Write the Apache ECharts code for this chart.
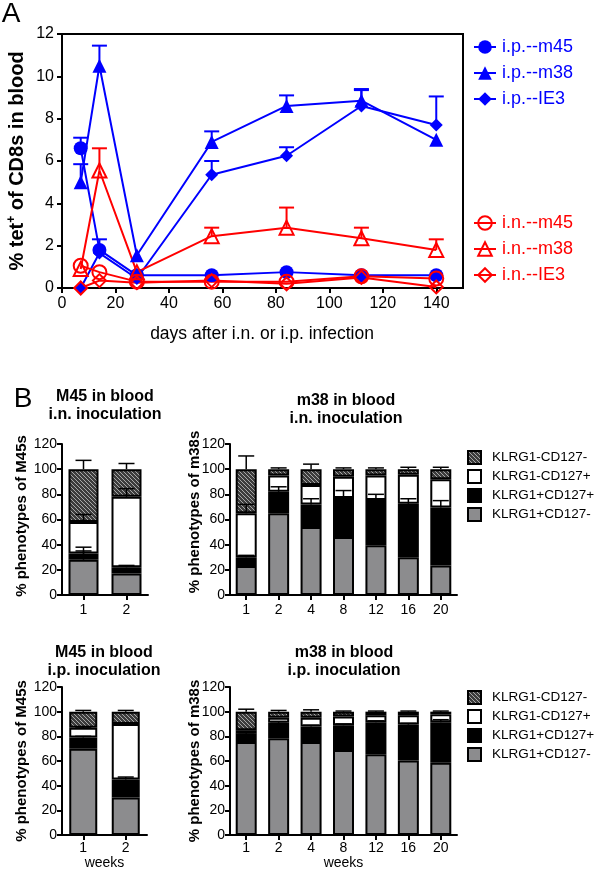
<!DOCTYPE html>
<html><head><meta charset="utf-8">
<script src="https://cdn.jsdelivr.net/npm/echarts@6/dist/echarts.min.js"></script>
<style>html,body{margin:0;padding:0;background:#fff}#c{width:600px;height:870px}</style>
</head><body><div id="c"></div>
<script>
const FONT = '"Liberation Sans", Arial, Helvetica, sans-serif';
const BLUE = '#0000ff', RED = '#ff0000';

// ---------- Panel A data ----------
const daysA = [7, 14, 28, 56, 84, 112, 140];
const ipM45 = [6.6, 1.8, 0.6, 0.6, 0.75, 0.6, 0.6];
const ipM45Err = [0.5, 0.5, 0, 0, 0, 0, 0];
const ipM38 = [5.0, 10.5, 1.55, 6.9, 8.6, 8.85, 7.0];
const ipM38Err = [0.85, 0.95, 0, 0.5, 0.5, 0.55, 0];
const ipIE3 = [0, 1.65, 0.45, 5.35, 6.25, 8.6, 7.7];
const ipIE3Err = [0, 0, 0, 0.65, 0.4, 0.75, 1.35];
const inM45 = [1.05, 0.75, 0.3, 0.3, 0.3, 0.55, 0.45];
const inM38 = [0.9, 5.55, 0.75, 2.45, 2.85, 2.35, 1.8];
const inM38Err = [0, 1.05, 0, 0.4, 0.95, 0.5, 0.5];
const inIE3 = [0, 0.35, 0.25, 0.35, 0.2, 0.5, 0.05];
const ticksA_y = [0, 12, 2];
const ticksA_x = [0, 150, 20];

// ---------- Panel B data ----------
const catsM45 = ['1', '2'];
const catsM38 = ['1', '2', '4', '8', '12', '16', '20'];
const phenoNames = ['KLRG1+CD127-', 'KLRG1+CD127+', 'KLRG1-CD127+', 'KLRG1-CD127-'];
// M45, i.n.
const m45inGray = [28, 17];
const m45inBlack = [5, 5];
const m45inWhite = [25, 56];
const m45inHatch = [42, 22];
const m45inErrGray = [7, 0];
const m45inErrBlack = [5, 1.5];
const m45inErrWhite = [6, 6.5];
const m45inErrHatch = [7, 4.5];
// m38, i.n.
const m38inGray = [23, 65, 54, 46, 39.5, 30, 23.5];
const m38inBlack = [7, 17, 18, 31, 36, 42.5, 46];
const m38inWhite = [35, 13, 15.5, 17, 19.5, 23, 22.5];
const m38inHatch = [35, 5, 12.5, 6, 5, 4.5, 8];
const m38inErrGray = [0, 0, 0, 0, 0, 0, 0];
const m38inErrBlack = [1.5, 4, 4.5, 6, 4.5, 4, 5.5];
const m38inErrWhite = [7, 0, 0, 0, 0, 0, 0];
const m38inErrHatch = [10.5, 1, 4, 1, 1, 1.5, 1.5];
// M45, i.p.
const m45ipGray = [70, 30.5];
const m45ipBlack = [9, 14.5];
const m45ipWhite = [8, 45];
const m45ipHatch = [13, 10];
const m45ipErrGray = [0, 0];
const m45ipErrBlack = [1, 2];
const m45ipErrWhite = [0.5, 1];
const m45ipErrHatch = [1, 1];
// m38, i.p.
const m38ipGray = [75.5, 78.5, 75.5, 69, 65.5, 60.5, 58.5];
const m38ipBlack = [6.5, 12.5, 12.5, 20, 26, 29, 33];
const m38ipWhite = [3, 4, 7, 7, 5.5, 7.5, 6.5];
const m38ipHatch = [15, 5, 5, 4, 3, 3, 2];
const m38ipErrGray = [0, 0, 0, 0, 0, 0, 0];
const m38ipErrBlack = [1, 1, 1, 1, 1, 1, 2];
const m38ipErrWhite = [0, 0, 0, 0, 0, 0, 0];
const m38ipErrHatch = [2, 1, 1.5, 0.5, 0.5, 0.5, 0.5];
const ticksB_y = [0, 120, 20];

// ---------- hatch pattern ----------
const hatchCanvas = document.createElement('canvas');
hatchCanvas.width = 4; hatchCanvas.height = 4;
(function () {
  const ctx = hatchCanvas.getContext('2d');
  ctx.fillStyle = '#3c3c3c'; ctx.fillRect(0, 0, 4, 4);
  ctx.fillStyle = '#a8a8a8';
  for (let y = 0; y < 4; y++) for (let x = 0; x < 4; x++) if (((x - y) % 4 + 4) % 4 === 0) ctx.fillRect(x, y, 1, 1);
})();
const HATCH = { image: hatchCanvas, repeat: 'repeat' };
const FILLS = ['#8c8c8e', '#000000', '#ffffff', HATCH];

function errRender(color, hw, lw) {
  return function (params, api) {
    const p0 = api.coord([api.value(0), api.value(1)]);
    const p1 = api.coord([api.value(0), api.value(2)]);
    return { type: 'group', children: [
      { type: 'line', shape: { x1: p0[0], y1: p0[1], x2: p1[0], y2: p1[1] }, style: { stroke: color, lineWidth: lw } },
      { type: 'line', shape: { x1: p1[0] - hw, y1: p1[1], x2: p1[0] + hw, y2: p1[1] }, style: { stroke: color, lineWidth: lw } }
    ]};
  };
}

function lineA(name, vals, color, symbol, filled) {
  return {
    type: 'line', name: name, xAxisIndex: 0, yAxisIndex: 0,
    data: daysA.map((d, i) => [d, vals[i]]),
    symbol: symbol, symbolSize: symbol === 'diamond' ? 13 : 14,
    lineStyle: { color: color, width: 2 },
    itemStyle: filled ? { color: color } : { color: 'rgba(255,255,255,0)', borderColor: color, borderWidth: 2 },
    z: 3, silent: true
  };
}
function errA(vals, errs, color) {
  const d = [];
  daysA.forEach((x, i) => { if (errs[i] > 0) d.push([x, vals[i], vals[i] + errs[i]]); });
  return { type: 'custom', xAxisIndex: 0, yAxisIndex: 0, data: d, encode: { x: 0, y: [1, 2] },
    renderItem: errRender(color, 7.5, 2), z: 2, silent: true };
}

function panelB(gi, cats, segs, errs, barW) {
  const out = [];
  segs.forEach((arr, k) => out.push({
    type: 'bar', name: phenoNames[k], xAxisIndex: gi, yAxisIndex: gi, stack: 's' + gi,
    data: arr, barWidth: barW,
    itemStyle: { color: FILLS[k], borderColor: '#000', borderWidth: 2 }, z: 2, silent: true
  }));
  const d = [];
  cats.forEach((c, i) => {
    let cum = 0;
    for (let k = 0; k < 4; k++) {
      cum += segs[k][i];
      if (errs[k][i] > 0) d.push([i, cum, cum + errs[k][i]]);
    }
  });
  out.push({ type: 'custom', xAxisIndex: gi, yAxisIndex: gi, data: d, encode: { x: 0, y: [1, 2] },
    renderItem: errRender('#000', 8, 1.5), z: 3, silent: true });
  return out;
}

const axisLineBlack = { show: true, lineStyle: { color: '#000', width: 2 } };
const tickBlack = { show: true, length: 5, lineStyle: { color: '#000', width: 2 } };

const grids = [
  { left: 62, top: 34, width: 401, height: 254, show: true, borderColor: '#000', borderWidth: 2, backgroundColor: 'transparent' },
  { left: 62, top: 444, width: 86, height: 151 },
  { left: 230, top: 444, width: 227, height: 151 },
  { left: 62, top: 687, width: 85, height: 148 },
  { left: 230, top: 687, width: 227, height: 148 }
];
grids.forEach(g => { g.containLabel = false; g.outerBoundsMode = 'none'; });

const xAxes = [
  { type: 'value', gridIndex: 0, min: ticksA_x[0], max: ticksA_x[1], interval: ticksA_x[2],
    axisLine: axisLineBlack, axisTick: tickBlack, splitLine: { show: false },
    axisLabel: { fontSize: 16, color: '#000', fontFamily: FONT, margin: 8, showMaxLabel: false } }
];
const yAxes = [
  { type: 'value', gridIndex: 0, min: ticksA_y[0], max: ticksA_y[1], interval: ticksA_y[2],
    axisLine: axisLineBlack, axisTick: tickBlack, splitLine: { show: false },
    axisLabel: { fontSize: 16, color: '#000', fontFamily: FONT, margin: 8 } }
];
[[1, catsM45, false], [2, catsM38, false], [3, catsM45, true], [4, catsM38, true]].forEach(([gi, cats, wk]) => {
  xAxes.push({ type: 'category', gridIndex: gi, data: cats,
    axisLine: axisLineBlack, axisTick: Object.assign({ alignWithLabel: true }, tickBlack),
    axisLabel: { fontSize: 14, color: '#000', fontFamily: FONT, margin: wk ? 6 : 8 },
    name: wk ? 'weeks' : '', nameLocation: 'middle', nameGap: 21,
    nameTextStyle: { fontSize: 14, color: '#000', fontFamily: FONT } });
  yAxes.push({ type: 'value', gridIndex: gi, min: ticksB_y[0], max: ticksB_y[1], interval: ticksB_y[2],
    axisLine: axisLineBlack, axisTick: tickBlack, splitLine: { show: false },
    axisLabel: { fontSize: 14, color: '#000', fontFamily: FONT, margin: 5 } });
});

const series = [
  errA(ipM45, ipM45Err, BLUE), errA(ipM38, ipM38Err, BLUE), errA(ipIE3, ipIE3Err, BLUE), errA(inM38, inM38Err, RED),
  lineA('i.p.--m45', ipM45, BLUE, 'circle', true),
  lineA('i.p.--m38', ipM38, BLUE, 'triangle', true),
  lineA('i.p.--IE3', ipIE3, BLUE, 'diamond', true),
  lineA('i.n.--m45', inM45, RED, 'circle', false),
  lineA('i.n.--m38', inM38, RED, 'triangle', false),
  lineA('i.n.--IE3', inIE3, RED, 'diamond', false)
].concat(
  panelB(1, catsM45, [m45inGray, m45inBlack, m45inWhite, m45inHatch], [m45inErrGray, m45inErrBlack, m45inErrWhite, m45inErrHatch], 30),
  panelB(2, catsM38, [m38inGray, m38inBlack, m38inWhite, m38inHatch], [m38inErrGray, m38inErrBlack, m38inErrWhite, m38inErrHatch], 21),
  panelB(3, catsM45, [m45ipGray, m45ipBlack, m45ipWhite, m45ipHatch], [m45ipErrGray, m45ipErrBlack, m45ipErrWhite, m45ipErrHatch], 28),
  panelB(4, catsM38, [m38ipGray, m38ipBlack, m38ipWhite, m38ipHatch], [m38ipErrGray, m38ipErrBlack, m38ipErrWhite, m38ipErrHatch], 21)
);

function legendA(names, color, top) {
  return { data: names, orient: 'vertical', left: 473, top: top, padding: 0, itemWidth: 22, itemHeight: 17, itemGap: 8,
    selectedMode: false, textStyle: { color: color, fontSize: 18, fontFamily: FONT, padding: [0, 0, 0, 1] } };
}
function legendB(top) {
  return { data: phenoNames.slice().reverse(), orient: 'vertical', left: 467, top: top, padding: 0, icon: 'rect',
    itemWidth: 13, itemHeight: 13, itemGap: 4, selectedMode: false,
    textStyle: { color: '#000', fontSize: 13.5, fontFamily: FONT, padding: [0, 0, 0, 6] } };
}

function txt(x, y, text, size, bold, extra) {
  return Object.assign({ type: 'text', x: x, y: y, silent: true,
    style: { text: text, fontSize: size, fontWeight: bold ? 'bold' : 'normal', fontFamily: FONT, fill: '#000',
      align: 'center', verticalAlign: 'middle' } }, extra || {});
}
function rot(x, y, text, size) {
  return txt(x, y, text, size, true, { rotation: Math.PI / 2 });
}

const yTitleA = {
  type: 'text', x: 17, y: 161, rotation: Math.PI / 2, silent: true,
  style: { text: '% tet{sup|+} of CD8s in blood', fontSize: 20, fontWeight: 'bold', fontFamily: FONT, fill: '#000',
    align: 'center', verticalAlign: 'middle', lineHeight: 22,
    rich: { sup: { fontSize: 12, fontWeight: 'bold', fontFamily: FONT, fill: '#000', verticalAlign: 'top', lineHeight: 13 } } }
};

const graphics = [
  txt(11, 14, 'A', 28, false),
  txt(23, 399, 'B', 28, false),
  yTitleA,
  txt(262, 334, 'days after i.n. or i.p. infection', 17.5, false),
  txt(105, 397, 'M45 in blood', 16, true), txt(105, 415, 'i.n. inoculation', 16, true),
  txt(346, 401, 'm38 in blood', 16, true), txt(346, 419, 'i.n. inoculation', 16, true),
  txt(104, 653, 'M45 in blood', 16, true), txt(104, 671, 'i.p. inoculation', 16, true),
  txt(344, 653, 'm38 in blood', 16, true), txt(344, 671, 'i.p. inoculation', 16, true),
  rot(22, 516, '% phenotypes of M45s', 15),
  rot(195, 512, '% phenotypes of m38s', 15),
  rot(22, 761, '% phenotypes of M45s', 15),
  rot(195, 761, '% phenotypes of m38s', 15)
];

const chart = echarts.init(document.getElementById('c'), null, { renderer: 'canvas' });
chart.setOption({
  animation: false,
  backgroundColor: '#fff',
  textStyle: { fontFamily: FONT },
  grid: grids,
  xAxis: xAxes,
  yAxis: yAxes,
  legend: [
    legendA(['i.p.--m45', 'i.p.--m38', 'i.p.--IE3'], BLUE, 38),
    legendA(['i.n.--m45', 'i.n.--m38', 'i.n.--IE3'], RED, 214),
    legendB(450),
    legendB(690)
  ],
  tooltip: { show: false },
  series: series,
  graphic: graphics
});
</script></body></html>
